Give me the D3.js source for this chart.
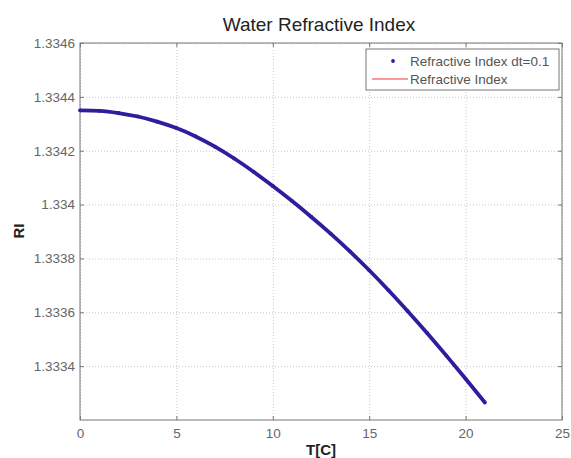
<!DOCTYPE html>
<html lang="en">
<head>
    <meta charset="UTF-8"/>
    <title>Water Refractive Index</title>
    <script src="https://d3js.org/d3.v7.min.js"></script>
    <style type="text/css">
        body { margin: 0; background: #fff; }
        text { font-family: Arial, "Liberation Sans", sans-serif; }
        .grid line { stroke: #c8c8c8; stroke-dasharray: 1,2; }
        .grid path { display: none; }
        .axis path, .axis line { stroke: #777; }
        .axis text { fill: #666; font-size: 13.5px; }
    </style>
</head>
<body>
<svg width="571" height="458"></svg>
<script type="text/javascript">
    // temperature [C] and refractive index
    var temps = [0, 1, 2, 3, 4, 5, 6, 7, 8, 9, 10, 11, 12, 13, 14, 15, 16, 17, 18, 19, 20, 21];
    var ri = [1.334350, 1.334348, 1.334340, 1.334327, 1.334308, 1.334284, 1.334253, 1.334215,
              1.334171, 1.334122, 1.334069, 1.334013, 1.333954, 1.333892, 1.333826, 1.333756,
              1.333682, 1.333604, 1.333523, 1.333439, 1.333353, 1.333265];
    var xTicks = [0, 5, 10, 15, 20, 25];
    var yTicks = [1.3334, 1.3336, 1.3338, 1.334, 1.3342, 1.3344, 1.3346];
    var seriesNames = ["Refractive Index dt=0.1", "Refractive Index"];

    var data = temps.map(function(t, i) { return {t: t, v: ri[i]}; });

    var svg = d3.select("svg"),
        pl = 80, pr = 562, pt = 43, pb = 420;

    var x = d3.scaleLinear().domain([0, 25]).range([pl, pr]);
    var y = d3.scaleLinear().domain([1.3332, 1.3346]).range([pb, pt]);

    // grid
    svg.append("g").attr("class", "grid")
        .attr("transform", "translate(0," + pb + ")")
        .call(d3.axisBottom(x).tickValues(xTicks).tickSize(-(pb - pt)).tickFormat(""));
    svg.append("g").attr("class", "grid")
        .attr("transform", "translate(" + pl + ",0)")
        .call(d3.axisLeft(y).tickValues(yTicks).tickSize(-(pr - pl)).tickFormat(""));

    // box
    svg.append("rect")
        .attr("x", pl).attr("y", pt)
        .attr("width", pr - pl).attr("height", pb - pt)
        .attr("fill", "none").attr("stroke", "#777");

    // axes with inward ticks
    svg.append("g").attr("class", "axis")
        .attr("transform", "translate(0," + pb + ")")
        .call(d3.axisBottom(x).tickValues(xTicks).tickSize(-4).tickPadding(8).tickFormat(d3.format("d")));
    svg.append("g").attr("class", "axis")
        .attr("transform", "translate(0," + pt + ")")
        .call(d3.axisTop(x).tickValues(xTicks).tickSize(-4).tickFormat(""));
    svg.append("g").attr("class", "axis")
        .attr("transform", "translate(" + pl + ",0)")
        .call(d3.axisLeft(y).tickValues(yTicks).tickSize(-4).tickPadding(5).tickFormat(function(d) { return +d.toFixed(4); }));
    svg.append("g").attr("class", "axis")
        .attr("transform", "translate(" + pr + ",0)")
        .call(d3.axisRight(y).tickValues(yTicks).tickSize(-4).tickFormat(""));
    svg.selectAll(".axis .domain").remove();

    // series
    var line = d3.line()
        .x(function(d) { return x(d.t); })
        .y(function(d) { return y(d.v); })
        .curve(d3.curveMonotoneX);

    svg.append("path").datum(data)
        .attr("d", line)
        .attr("fill", "none")
        .attr("stroke", "#ff3030")
        .attr("stroke-width", 1);

    svg.append("path").datum(data)
        .attr("d", line)
        .attr("fill", "none")
        .attr("stroke", "#2c1e9c")
        .attr("stroke-width", 3.8);

    svg.selectAll(".dot").data(data).enter().append("circle")
        .attr("class", "dot")
        .attr("cx", function(d) { return x(d.t); })
        .attr("cy", function(d) { return y(d.v); })
        .attr("r", 1.9)
        .attr("fill", "#2c1e9c");

    // title and labels
    svg.append("text")
        .attr("x", 319).attr("y", 31)
        .attr("text-anchor", "middle")
        .style("font-size", "19px")
        .style("fill", "#222")
        .text("Water Refractive Index");

    svg.append("text")
        .attr("x", 321).attr("y", 455)
        .attr("text-anchor", "middle")
        .style("font-size", "15px")
        .style("font-weight", "bold")
        .style("fill", "#222")
        .text("T[C]");

    svg.append("text")
        .attr("transform", "translate(24,231) rotate(-90)")
        .attr("text-anchor", "middle")
        .style("font-size", "15px")
        .style("font-weight", "bold")
        .style("fill", "#222")
        .text("RI");

    // legend
    var lg = svg.append("g");
    lg.append("rect")
        .attr("x", 366).attr("y", 49)
        .attr("width", 193).attr("height", 41)
        .attr("fill", "#fff").attr("stroke", "#777");
    lg.append("circle")
        .attr("cx", 393).attr("cy", 61).attr("r", 1.9)
        .attr("fill", "#2c1e9c");
    lg.append("line")
        .attr("x1", 372).attr("x2", 408)
        .attr("y1", 79).attr("y2", 79)
        .attr("stroke", "#ff3030");
    lg.selectAll(".lt").data(seriesNames).enter().append("text")
        .attr("class", "lt")
        .attr("x", 410)
        .attr("y", function(d, i) { return 66 + i * 18; })
        .style("font-size", "13.5px")
        .style("fill", "#555")
        .text(function(d) { return d; });
</script>
</body>
</html>
